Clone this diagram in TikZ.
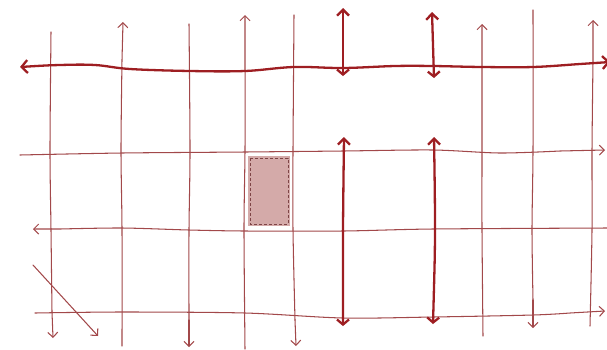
\documentclass[tikz,border=0pt]{standalone}
\usetikzlibrary{arrows.meta}
\definecolor{thinred}{HTML}{A2484A}
\definecolor{thickred}{HTML}{9E1E22}
\definecolor{boxfill}{HTML}{D4AAA9}
\definecolor{boxedge}{HTML}{7E4446}
\tikzset{
  thinline/.style={draw=thinred, line width=1.05pt, line cap=round},
  thickline/.style={draw=thickred, line width=2.3pt, line cap=round},
}
\begin{document}
\begin{tikzpicture}[x=1pt,y=-1pt]
\useasboundingbox (0,0) rectangle (607,349);
% rectangle
\fill[boxfill] (247,155) rectangle (291,227);
\draw[white, line width=1.5pt] (247,155) rectangle (291,227);
\draw[boxedge, line width=0.7pt, dash pattern=on 3pt off 2pt] (250,158) rectangle (288,224);
% thin verticals
\draw[thinline] plot[smooth] coordinates {(51,32) (50,150) (51,230) (52,312)};
\draw[thinline, -{Straight Barb[length=5pt,width=10pt]}] (52,312) -- (53,338);
\draw[thinline, -{Straight Barb[length=5pt,width=10pt]}] plot[smooth] coordinates {(122,346) (122,230) (121,150) (122,60)} -- (123,22);
\draw[thinline] plot[smooth] coordinates {(189,24) (190,150) (189,230) (189,320)};
\draw[thinline, -{Straight Barb[length=5pt,width=10pt]}] (189,320) -- (189,347);
\draw[thinline, -{Straight Barb[length=5pt,width=10pt]}] plot[smooth] coordinates {(245,349) (244,230) (245,150) (245,60)} -- (245,15);
\draw[thinline] plot[smooth] coordinates {(294,15) (293,150) (293,230) (295,320)};
\draw[thinline, -{Straight Barb[length=5pt,width=10pt]}] (295,320) -- (296,346);
\draw[thinline, -{Straight Barb[length=5pt,width=10pt]}] plot[smooth] coordinates {(483,336) (482,230) (482,150) (482,60)} -- (482,24);
\draw[thinline] plot[smooth] coordinates {(533,10) (533,150) (532,230) (533,300)};
\draw[thinline, -{Straight Barb[length=5pt,width=10pt]}] (533,300) -- (533,328);
\draw[thinline, -{Straight Barb[length=5pt,width=10pt]}] plot[smooth] coordinates {(590,326) (592,230) (592,150) (593,60)} -- (593,20);
% thin horizontals
\draw[thinline, -{Straight Barb[length=5pt,width=10pt]}] plot[smooth] coordinates {(20,155) (122,153) (245,152) (343,151) (433,150) (500,153) (560,151)} -- (605,150);
\draw[thinline, -{Straight Barb[length=5pt,width=10pt]}] plot[smooth] coordinates {(607,228) (433,229) (343,231) (245,231) (189,230) (122,228) (60,229)} -- (33,229);
\draw[thinline, -{Straight Barb[length=5pt,width=10pt]}] plot[smooth] coordinates {(35,313) (122,312) (245,313) (343,318) (433,317) (533,315) (570,313)} -- (605,311);
% diagonal
\draw[thinline, -{Straight Barb[length=5pt,width=10pt]}] (33,265) -- (98,336);
% thick horizontal
\draw[thickline, {Straight Barb[length=6pt,width=13pt]}-{Straight Barb[length=6pt,width=13pt]}] plot[smooth, tension=0.6] coordinates {(20,67) (60,65) (95,65) (130,69) (190,71) (245,71) (294,67) (343,68) (395,66) (433,66) (482,67) (533,67) (580,64) (610,62)};
% thick vertical double arrows
\draw[thickline, {Straight Barb[length=5pt,width=12pt]}-{Straight Barb[length=6pt,width=12pt]}] (343,76) -- (343,8);
\draw[thickline, {Straight Barb[length=5pt,width=12pt]}-{Straight Barb[length=6pt,width=12pt]}] (434,78) -- (432,12);
\draw[thickline, {Straight Barb[length=5pt,width=12pt]}-{Straight Barb[length=6pt,width=12pt]}] plot[smooth] coordinates {(343,326) (343,230) (344,137)};
\draw[thickline, {Straight Barb[length=5pt,width=12pt]}-{Straight Barb[length=6pt,width=12pt]}] plot[smooth] coordinates {(433,324) (435,230) (434,137)};
\end{tikzpicture}
\end{document}
